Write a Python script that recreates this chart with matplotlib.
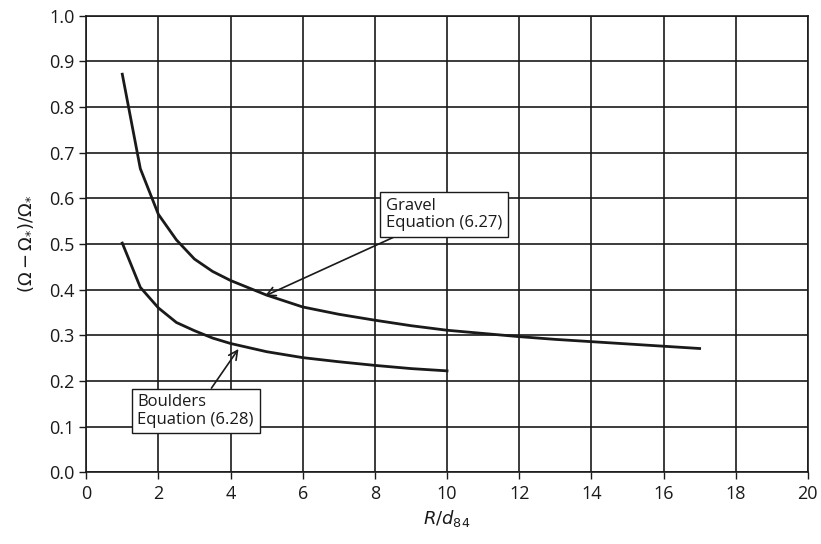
import matplotlib
matplotlib.use("Agg")
import matplotlib.pyplot as plt

plt.rcParams['font.family'] = ['Open Sans', 'DejaVu Sans']
plt.rcParams['mathtext.fontset'] = 'dejavusans'

gravel_x = [1, 1.5, 2, 2.5, 3, 3.5, 4, 5, 6, 7, 8, 9, 10, 11, 12, 13, 14, 15, 16, 17]
gravel_y = [0.872, 0.665, 0.565, 0.509, 0.467, 0.440, 0.420, 0.388, 0.362, 0.346, 0.333, 0.321, 0.311, 0.304, 0.297, 0.291, 0.286, 0.281, 0.276, 0.271]
boulder_x = [1, 1.5, 2, 2.5, 3, 3.5, 4, 5, 6, 7, 8, 9, 10]
boulder_y = [0.502, 0.405, 0.360, 0.328, 0.310, 0.294, 0.282, 0.264, 0.251, 0.242, 0.234, 0.227, 0.222]

xticks = list(range(0, 21, 2))
yticks = [i / 10 for i in range(11)]

fig = plt.figure(figsize=(8.21, 5.44), dpi=100)
ax = fig.add_axes([0.105, 0.132, 0.879, 0.839])

ax.plot(gravel_x, gravel_y, color='#1a1a1a', lw=2.0, zorder=3)
ax.plot(boulder_x, boulder_y, color='#1a1a1a', lw=2.0, zorder=3)

ax.set_xlim(0, 20)
ax.set_ylim(0, 1.0)
ax.set_xticks(xticks)
ax.set_yticks(yticks)
ax.set_yticklabels([f"{v:.1f}" for v in yticks])
ax.grid(True, color='#1a1a1a', lw=1.2)
ax.set_axisbelow(True)
for s in ax.spines.values():
    s.set_color('#1a1a1a')
    s.set_linewidth(1.2)
ax.tick_params(axis='both', labelsize=13, color='#1a1a1a', length=5, width=1.0,
               labelcolor='#1a1a1a')
ax.tick_params(axis='x', pad=4)

ax.set_xlabel(r'$R/d_{84}$', fontsize=13, color='#1a1a1a', labelpad=4)
ax.set_ylabel(r'$(\Omega - \Omega_{*})/\Omega_{*}$', fontsize=13, color='#1a1a1a', labelpad=10)

bbox = dict(boxstyle='square,pad=0.35', fc='white', ec='#1a1a1a', lw=1.0)
ax.annotate('Gravel\nEquation (6.27)', xy=(4.95, 0.386), xytext=(8.3, 0.565),
            fontsize=12, color='#1a1a1a', va='center', ha='left', bbox=bbox,
            linespacing=1.1, zorder=5,
            arrowprops=dict(arrowstyle='->', color='#1a1a1a', lw=1.2,
                            shrinkA=0, shrinkB=0, mutation_scale=16))
ax.annotate('Boulders\nEquation (6.28)', xy=(4.22, 0.27), xytext=(1.42, 0.134),
            fontsize=12, color='#1a1a1a', va='center', ha='left', bbox=bbox,
            linespacing=1.1, zorder=5,
            arrowprops=dict(arrowstyle='->', color='#1a1a1a', lw=1.2,
                            shrinkA=0, shrinkB=0, mutation_scale=16))

fig.savefig('out.png', dpi=100)
